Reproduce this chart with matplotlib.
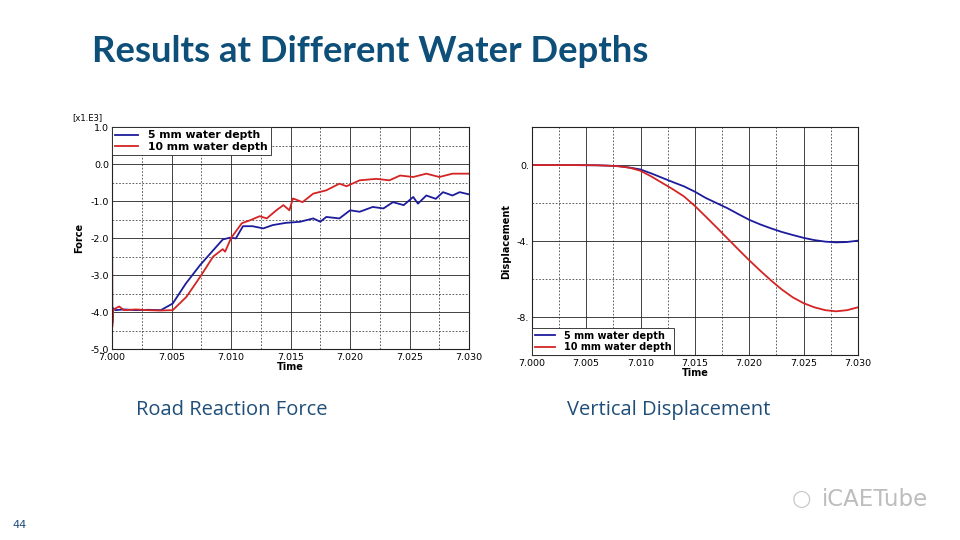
import numpy as np
import matplotlib.pyplot as plt
from matplotlib.ticker import MultipleLocator, FixedLocator

# road reaction force [x1.E3]
t_blue_f = [7.0, 7.00002, 7.0001, 7.0003, 7.001, 7.002, 7.003, 7.0041, 7.0051, 7.0062, 7.0074,
            7.0085, 7.0093, 7.0099, 7.0104, 7.011, 7.0118, 7.0127, 7.0135, 7.0146, 7.0158,
            7.0169, 7.0175, 7.018, 7.0191, 7.02, 7.0208, 7.0219, 7.0228, 7.0236, 7.0245,
            7.0253, 7.0257, 7.0264, 7.0272, 7.0278, 7.0286, 7.0292, 7.03]
f_blue = [0.0, -4.3, -3.9, -3.95, -3.93, -3.95, -3.94, -3.95, -3.77, -3.23, -2.73,
          -2.33, -2.04, -1.99, -2.01, -1.68, -1.68, -1.74, -1.65, -1.59, -1.56,
          -1.47, -1.56, -1.43, -1.47, -1.25, -1.29, -1.16, -1.2, -1.03, -1.11,
          -0.89, -1.07, -0.85, -0.94, -0.76, -0.85, -0.76, -0.82]
t_red_f = [7.0, 7.00002, 7.0001, 7.0003, 7.0006, 7.001, 7.002, 7.003, 7.004, 7.0051, 7.00625,
           7.0074, 7.0085, 7.0093, 7.0095, 7.010, 7.0109, 7.0116, 7.0124, 7.013, 7.0138,
           7.0144, 7.0149, 7.0152, 7.016, 7.0169, 7.018, 7.0191, 7.0197, 7.0208, 7.0222,
           7.0233, 7.0242, 7.0253, 7.0264, 7.0275, 7.0286, 7.03]
f_red = [0.0, -4.4, -3.95, -3.9, -3.85, -3.95, -3.93, -3.95, -3.96, -3.95, -3.59,
         -3.05, -2.5, -2.3, -2.37, -2.0, -1.6, -1.52, -1.41, -1.47, -1.25,
         -1.11, -1.25, -0.93, -1.03, -0.8, -0.71, -0.53, -0.6, -0.44, -0.4,
         -0.44, -0.31, -0.35, -0.26, -0.35, -0.26, -0.26]

# vertical displacement
t_disp = [7.0, 7.002, 7.004, 7.006, 7.007, 7.008, 7.009, 7.010, 7.011, 7.012, 7.013, 7.014,
          7.015, 7.016, 7.017, 7.018, 7.019, 7.020, 7.021, 7.022, 7.023, 7.024, 7.025,
          7.026, 7.027, 7.028, 7.029, 7.030]
d_blue = [0.0, 0.0, 0.0, -0.01, -0.03, -0.06, -0.13, -0.23, -0.44, -0.67, -0.9, -1.12,
          -1.4, -1.73, -2.0, -2.27, -2.58, -2.88, -3.12, -3.33, -3.52, -3.68, -3.83,
          -3.95, -4.03, -4.07, -4.05, -3.98]
d_red = [0.0, 0.0, 0.0, -0.01, -0.03, -0.06, -0.14, -0.3, -0.6, -0.94, -1.28, -1.65,
         -2.15, -2.71, -3.28, -3.86, -4.44, -5.01, -5.55, -6.07, -6.55, -6.96, -7.27,
         -7.49, -7.64, -7.7, -7.64, -7.49]

labels = ['5 mm water depth', '10 mm water depth']
xt = [7.0, 7.005, 7.01, 7.015, 7.02, 7.025, 7.03]
blue = '#1c1c9c'
red = '#d42424'
title_col = '#0d4f78'
sub_col = '#1f4e79'

fig = plt.figure(figsize=(9.6, 5.4), dpi=100)
fig.patch.set_facecolor('white')

fig.text(0.096, 0.905, 'Results at Different Water Depths', fontsize=26.3, color=title_col,
         family='Lato', fontweight='bold', va='center')


def style_axes(ax):
    ax.set_xlim(7.0, 7.03)
    ax.xaxis.set_major_locator(FixedLocator(xt))
    ax.xaxis.set_minor_locator(MultipleLocator(0.0025))
    ax.grid(which='major', color='#222222', lw=0.6, ls='-')
    ax.grid(which='minor', color='#444444', lw=0.6, ls=(0, (2, 2)))
    ax.tick_params(which='both', length=0, labelsize=6.8, pad=2)
    ax.tick_params(axis='x', pad=3)
    ax.set_xticklabels(['%.3f' % v for v in xt])
    for s in ax.spines.values():
        s.set_linewidth(0.8)
        s.set_color('#222222')
    ax.set_xlabel('Time', fontsize=7, fontweight='bold', labelpad=0)


def style_legend(leg):
    fr = leg.get_frame()
    fr.set_edgecolor('#222222')
    fr.set_linewidth(0.6)
    fr.set_alpha(1)


# left: force
ax1 = fig.add_axes([0.1167, 0.3537, 0.372, 0.411])
ax1.plot(t_blue_f, f_blue, color=blue, lw=1.3, label=labels[0])
ax1.plot(t_red_f, f_red, color=red, lw=1.3, label=labels[1])
ax1.set_ylim(-5, 1)
ax1.yaxis.set_minor_locator(MultipleLocator(0.5))
style_axes(ax1)
yv = np.arange(-5, 1.01, 1.0)
ax1.set_yticks(yv)
ax1.set_yticklabels(['%.1f' % v if abs(v) > 1e-9 else '0.0' for v in yv])
ax1.set_ylabel('Force', fontsize=7, fontweight='bold', labelpad=5)
ax1.text(-0.11, 1.02, '[x1.E3]', transform=ax1.transAxes, fontsize=6, va='bottom')
leg1 = ax1.legend(loc='upper left', frameon=True, fancybox=False,
                  borderpad=0.3, handlelength=2.1, labelspacing=0.15, handletextpad=0.9,
                  prop={'weight': 'bold', 'size': 7.8}, borderaxespad=0.0)
style_legend(leg1)

# right: displacement
ax2 = fig.add_axes([0.554, 0.3426, 0.3396, 0.422])
ax2.plot(t_disp, d_blue, color=blue, lw=1.3, label=labels[0])
ax2.plot(t_disp, d_red, color=red, lw=1.3, label=labels[1])
ax2.set_ylim(-10, 2)
style_axes(ax2)
ax2.yaxis.set_major_locator(FixedLocator([-8, -4, 0]))
ax2.yaxis.set_minor_locator(FixedLocator([-6, -2]))
ax2.set_yticklabels(['-8.', '-4.', '0.'])
ax2.set_ylabel('Displacement', fontsize=7, fontweight='bold', labelpad=4)
leg2 = ax2.legend(loc='lower left', frameon=True, fancybox=False,
                  borderpad=0.3, handlelength=2.1, labelspacing=0.15, handletextpad=0.9,
                  prop={'weight': 'bold', 'size': 7.0}, borderaxespad=0.0)
style_legend(leg2)

fig.text(0.241, 0.24, 'Road Reaction Force', fontsize=14.5, color=sub_col,
         family='Open Sans', ha='center', va='center')
fig.text(0.697, 0.24, 'Vertical Displacement', fontsize=14.5, color=sub_col,
         family='Open Sans', ha='center', va='center')
fig.text(0.013, 0.028, '44', fontsize=8, color=sub_col, va='center')
fig.text(0.835, 0.075, '\u25cb', fontsize=16, color='#c8c8c8', ha='center', va='center')
fig.text(0.856, 0.075, 'iCAETube', fontsize=16.5, color='#bdbdbd', ha='left', va='center')

plt.savefig('out.png', dpi=100)
